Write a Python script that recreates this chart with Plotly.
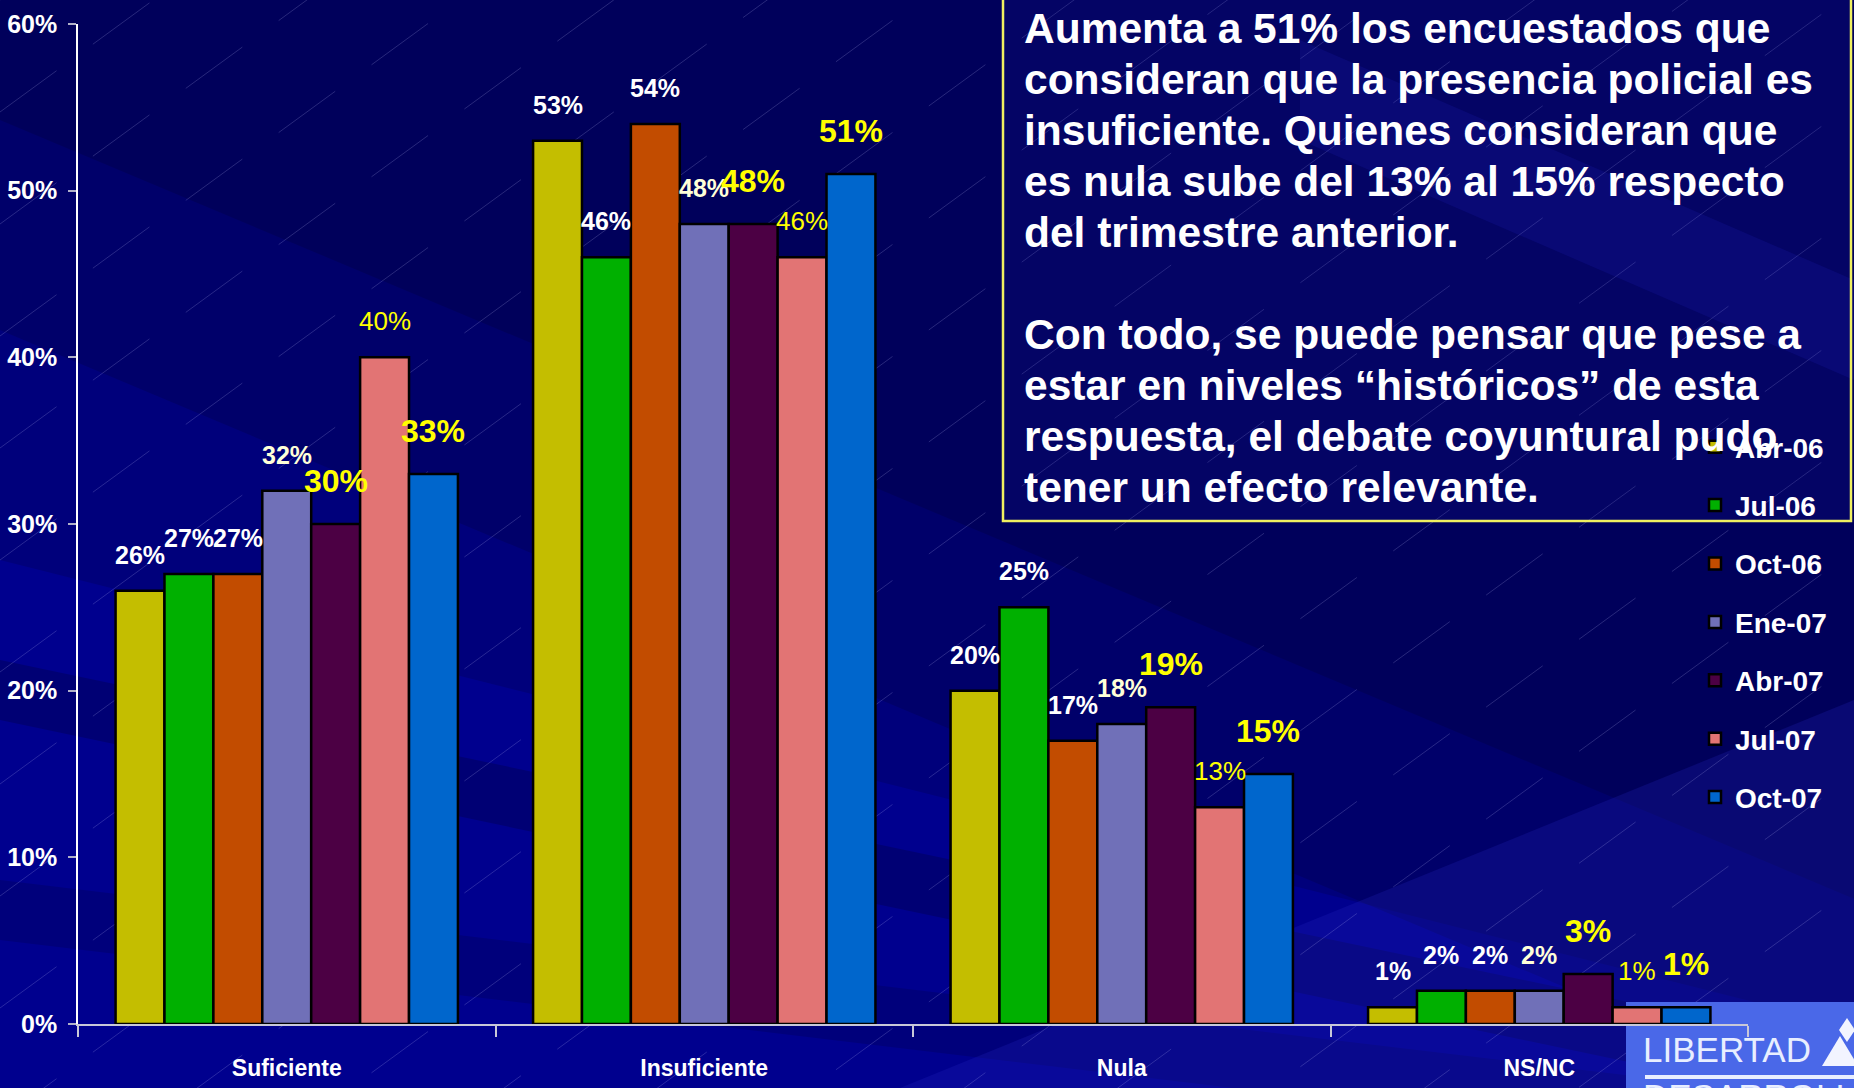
import plotly.graph_objects as go

# ---------------- data ----------------
categories = ["Suficiente", "Insuficiente", "Nula", "NS/NC"]
series_names = ["Abr-06", "Jul-06", "Oct-06", "Ene-07", "Abr-07", "Jul-07", "Oct-07"]
abr06 = [26, 53, 20, 1]
jul06 = [27, 46, 25, 2]
oct06 = [27, 54, 17, 2]
ene07 = [32, 48, 18, 2]
abr07 = [30, 48, 19, 3]
jul07 = [40, 46, 13, 1]
oct07 = [33, 51, 15, 1]
series_values = [abr06, jul06, oct06, ene07, abr07, jul07, oct07]
y_tick_vals = [0, 10, 20, 30, 40, 50, 60]
y_tick_text = ["0%", "10%", "20%", "30%", "40%", "50%", "60%"]

text_lines = [
    "Aumenta a 51% los encuestados que",
    "consideran que la presencia policial es",
    "insuficiente. Quienes consideran que",
    "es nula sube del 13% al 15% respecto",
    "del trimestre anterior.",
    "",
    "Con todo, se puede pensar que pese a",
    "estar en niveles “históricos” de esta",
    "respuesta, el debate coyuntural pudo",
    "tener un efecto relevante.",
]

# ---------------- styles ----------------
bar_colors = ["#C4BE00", "#00B000", "#C24C00", "#7070B8", "#4C0044", "#E27474", "#0066CC"]
# label styles per series: (color, size, bold, yshift)
label_styles = [
    ("#FFFFFF", 25, True, 36),
    ("#FFFFFF", 25, True, 36),
    ("#FFFFFF", 25, True, 36),
    ("#FFFFD8", 25, True, 36),
    ("#FFFF00", 32, True, 43),
    ("#FFFF00", 26, False, 36),
    ("#FFFF00", 32, True, 43),
]
FONT = "Liberation Sans, Arial, sans-serif"
BG = "#00008E"

W, H = 1854, 1088
L, R, T, B = 78, 106, 24, 64
PW, PH = W - L - R, H - T - B
BARGAP = 0.18


def px(x):
    return (x - L) / PW


def py(y):
    return (H - B - y) / PH


fig = go.Figure()
for name, vals, col in zip(series_names, series_values, bar_colors):
    fig.add_trace(go.Bar(
        x=categories, y=vals, name=name, legendgroup=name,
        marker=dict(color=col, line=dict(color="#000000", width=2.5)),
        hoverinfo="x+y+name",
    ))

# ---------------- bar value labels ----------------
annotations = []
n = len(series_names)
w = (1 - BARGAP) / n
for i, vals in enumerate(series_values):
    col, size, bold, ysh = label_styles[i]
    off = -(1 - BARGAP) / 2 + w * (i + 0.5)
    for j, v in enumerate(vals):
        txt = f"{v}%"
        if bold:
            txt = f"<b>{txt}</b>"
        annotations.append(dict(
            x=j + off, y=v, xref="x", yref="y", text=txt, showarrow=False,
            yanchor="middle", xanchor="center", yshift=ysh,
            font=dict(family=FONT, size=size, color=col),
        ))

# ---------------- text box ----------------
for k, line in enumerate(text_lines):
    if not line:
        continue
    yc = 28 + k * 51.1
    annotations.append(dict(
        x=px(1022), y=py(yc), xref="paper", yref="paper", text=f"<b>{line}</b>",
        showarrow=False, xanchor="left", yanchor="middle",
        font=dict(family=FONT, size=42.5, color="#FFFFFF"),
    ))

# ---------------- logo ----------------
annotations.append(dict(
    x=px(1641), y=py(1049), xref="paper", yref="paper", text="LIBERTAD",
    showarrow=False, xanchor="left", yanchor="middle",
    font=dict(family=FONT, size=35, color="#E8EEFF"),
))
annotations.append(dict(
    x=px(1641), y=py(1096), xref="paper", yref="paper", text="DESARROLLO",
    showarrow=False, xanchor="left", yanchor="middle",
    font=dict(family=FONT, size=35, color="#E8EEFF"),
))

# ---------------- background decoration ----------------
shapes = []


def poly(pts, fill, layer="below"):
    d = "M " + " L ".join(f"{px(x):.5f},{py(y):.5f}" for x, y in pts) + " Z"
    return dict(type="path", path=d, xref="paper", yref="paper",
                fillcolor=fill, line=dict(width=0), layer=layer)


s = 0.42  # slope of bands (down to the right)
shapes.append(poly([(0, 0), (W, 0), (W, 120 + s * W), (0, 120)], "rgba(0,0,40,0.22)"))
shapes.append(poly([(0, 0), (W, 0), (W, 330 + s * W), (0, 330)], "rgba(0,0,40,0.20)"))
shapes.append(poly([(0, 0), (W, 0), (W, 560 + s * W * 0.6), (0, 560)], "rgba(0,0,40,0.18)"))
shapes.append(poly([(0, 660), (W, 660 + s * W * 0.5), (W, 720 + s * W * 0.5), (0, 720)], "rgba(0,0,50,0.28)"))
shapes.append(poly([(0, 880), (W, 880 + 0.12 * W), (W, 940 + 0.12 * W), (0, 940)], "rgba(0,0,50,0.20)"))
shapes.append(poly([(900, H), (W, 700), (W, H)], "rgba(40,40,200,0.22)"))
shapes.append(poly([(1300, 40), (W, 280), (W, 380), (1300, 140)], "rgba(40,40,210,0.16)"))

# dashed diagonal hatch lines
m = 0.73
c = 0.0
while c < H + m * W + 100:
    shapes.append(dict(type="line", xref="paper", yref="paper",
                       x0=px(0), y0=py(c), x1=px(W), y1=py(c - m * W),
                       line=dict(color="rgba(200,200,255,0.20)", width=1, dash="70px,45px"),
                       layer="below"))
    c += 112

# text box border
shapes.append(dict(type="rect", xref="paper", yref="paper",
                   x0=px(1003), y0=py(521), x1=px(1851), y1=py(-4),
                   line=dict(color="#F0F060", width=2.5), fillcolor="rgba(30,30,160,0.15)",
                   layer="below"))

# logo block (behind bars)
shapes.append(dict(type="rect", xref="paper", yref="paper",
                   x0=px(1626), y0=py(1090), x1=px(1858), y1=py(1002),
                   line=dict(width=0), fillcolor="#4A68E8", layer="below"))
shapes.append(dict(type="line", xref="paper", yref="paper",
                   x0=px(1645), y0=py(1077), x1=px(1858), y1=py(1077),
                   line=dict(color="#E8EEFF", width=4), layer="above"))
shapes.append(poly([(1822, 1066), (1840, 1036), (1858, 1066)], "#F2F4FF", "above"))
shapes.append(poly([(1847, 1018), (1855, 1030), (1847, 1042), (1839, 1030)], "#F2F4FF", "above"))

fig.update_layout(
    width=W, height=H,
    margin=dict(l=L, r=R, t=T, b=B, autoexpand=False),
    paper_bgcolor=BG,
    plot_bgcolor="rgba(0,0,0,0)",
    barmode="group", bargap=BARGAP, bargroupgap=0,
    font=dict(family=FONT, color="#FFFFFF"),
    showlegend=True,
    legend=dict(
        x=px(1695), xanchor="left", y=py(422), yanchor="top",
        font=dict(family=FONT, size=28, color="#FFFFFF", weight="bold"),
        bgcolor="rgba(0,0,0,0)", tracegroupgap=19,
    ),
    xaxis=dict(
        type="category", showline=True, linecolor="#C8C8D8", linewidth=2,
        ticks="outside", tickson="boundaries", ticklen=11, tickcolor="#C8C8D8",
        tickwidth=1.5, showgrid=False, zeroline=False, automargin=False,
        tickfont=dict(family=FONT, size=23, color="#FFFFFF", weight="bold"),
        ticklabelstandoff=22,
    ),
    yaxis=dict(
        range=[0, 60], tickvals=y_tick_vals, ticktext=y_tick_text,
        showline=True, linecolor="#FFFFFF", linewidth=1.5,
        ticks="outside", ticklen=8, tickcolor="#B0B0C8", tickwidth=1.5,
        showgrid=False, zeroline=False, automargin=False,
        tickfont=dict(family=FONT, size=25, color="#FFFFFF", weight="bold"),
        ticklabelstandoff=6,
    ),
    annotations=annotations,
    shapes=shapes,
)

fig.write_html(
    "out.html",
    config={"displayModeBar": False},
    post_script=(
        "document.body.style.margin='0';"
        "document.body.style.overflow='hidden';"
        f"document.body.style.background='{BG}';"
    ),
)
